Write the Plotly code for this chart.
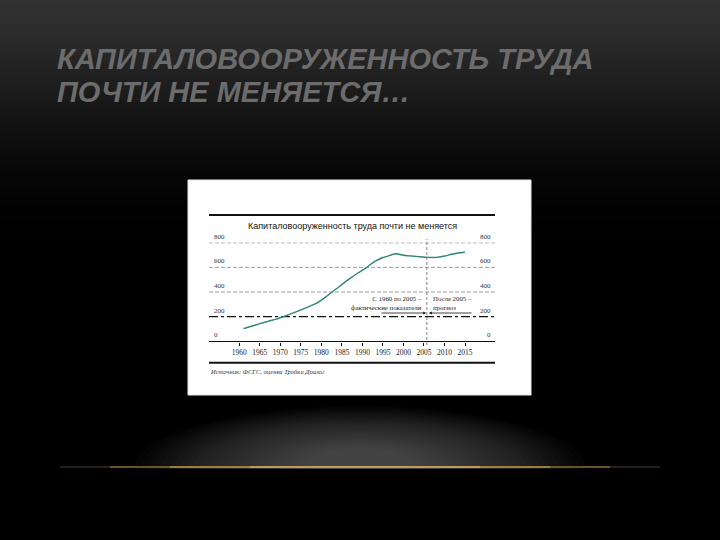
import plotly.graph_objects as go

# ---------------- data ----------------
years = [1961, 1963, 1965, 1967, 1969, 1971, 1973, 1975, 1977, 1979, 1981, 1983,
         1985, 1987, 1989, 1991, 1993, 1995, 1997, 1998, 1999, 2000, 2002, 2004,
         2006, 2008, 2010, 2012, 2014, 2015]
values = [103, 122, 143, 162, 180, 203, 228, 255, 282, 312, 358, 410,
          460, 510, 556, 598, 648, 680, 700, 710, 706, 698, 692, 686,
          681, 681, 692, 708, 718, 722]
x_ticks = [1960, 1965, 1970, 1975, 1980, 1985, 1990, 1995, 2000, 2005, 2010, 2015]
y_ticks = [0, 200, 400, 600, 800]
SPLIT_YEAR = 2005.7

slide_title = ["КАПИТАЛОВООРУЖЕННОСТЬ ТРУДА", "ПОЧТИ НЕ МЕНЯЕТСЯ…"]
chart_title = "Капиталовооруженность труда почти не меняется"
note_left = "С 1960 по 2005 –<br>фактические показатели"
note_right = "После 2005 –<br>прогноз"
source = "Источник: ФСГС, оценка Тройки Диалог"

W, H = 720, 540


def X(px):
    return px / W


def Y(py):
    return 1 - py / H


# pixel geometry of the embedded chart
PL, PR = 209, 495          # plot left/right
Y0, Y800 = 341.3, 242.7    # pixel rows of 0 and 800
T0, T1 = 239.3, 465.0      # pixel cols of 1960 and 2015
ppy = (T1 - T0) / 55.0
xr0 = 1960 + (PL - T0) / ppy
xr1 = 1960 + (PR - T0) / ppy

shapes = []

# ---- slide background gradient ----
stops = [(0, 50), (40, 42), (80, 31), (120, 19), (160, 9), (200, 3), (240, 0)]
for i in range(len(stops) - 1):
    (ya, ca), (yb, cb) = stops[i], stops[i + 1]
    n = 8
    for k in range(n):
        y0 = ya + (yb - ya) * k / n
        y1 = ya + (yb - ya) * (k + 1) / n + 0.6
        c = int(round(ca + (cb - ca) * (k + 0.5) / n))
        shapes.append(dict(type="rect", xref="paper", yref="paper", layer="below",
                           x0=0, x1=1, y0=Y(y1), y1=Y(y0),
                           fillcolor=f"rgb({c},{c},{c})", line=dict(width=0)))

# ---- glow under the picture ----
n_glow = 28
for k in range(n_glow):
    f = k / n_glow
    rx = 225 - 180 * f
    ry = 62 - 44 * f
    cx, cy = 360, 468
    shapes.append(dict(type="circle", xref="paper", yref="paper", layer="below",
                       x0=X(cx - rx), x1=X(cx + rx), y0=Y(cy + ry), y1=Y(cy - ry),
                       fillcolor="rgba(130,130,130,0.03)", line=dict(width=0)))
shapes.append(dict(type="rect", xref="paper", yref="paper", layer="below",
                   x0=0, x1=1, y0=0, y1=Y(469), fillcolor="black", line=dict(width=0)))
for (xa, xb, col, wd) in [(60, 660, "rgba(80,68,42,0.5)", 2),
                          (110, 610, "rgba(150,115,55,0.6)", 2),
                          (170, 550, "rgba(195,155,80,0.75)", 1.6),
                          (250, 480, "rgba(230,195,115,0.85)", 1.2)]:
    shapes.append(dict(type="line", xref="paper", yref="paper", layer="below",
                       x0=X(xa), x1=X(xb), y0=Y(467), y1=Y(467),
                       line=dict(color=col, width=wd)))

# ---- white picture box ----
shapes.append(dict(type="rect", xref="paper", yref="paper", layer="below",
                   x0=X(188), x1=X(531), y0=Y(395), y1=Y(180),
                   fillcolor="white", line=dict(color="#e8e8e8", width=1)))

# top and bottom rules of the chart
for py in (215, 362.7):
    shapes.append(dict(type="line", xref="paper", yref="paper", layer="below",
                       x0=X(PL), x1=X(PR), y0=Y(py), y1=Y(py),
                       line=dict(color="#111", width=2)))

# horizontal grid lines
grid_style = {800: ("#555", "4px,2px", 1), 600: ("#9a9a9a", "4px,2px", 1),
              400: ("#9a9a9a", "4px,2px", 1), 200: ("#111", "dashdot", 1.3)}
for v in y_ticks[1:]:
    col, dash, wd = grid_style[v]
    shapes.append(dict(type="line", xref="paper", yref="y", layer="below",
                       x0=X(PL), x1=X(PR), y0=v, y1=v,
                       line=dict(color=col, width=wd, dash=dash)))

# vertical split line
shapes.append(dict(type="line", xref="x", yref="paper", layer="below",
                   x0=SPLIT_YEAR, x1=SPLIT_YEAR, y0=Y(345), y1=Y(239),
                   line=dict(color="#777", width=0.9, dash="3px,2px")))

fig = go.Figure()
fig.add_trace(go.Scatter(x=years, y=values, mode="lines",
                         line=dict(color="#2f8574", width=1.4, shape="spline", smoothing=0.6),
                         hoverinfo="skip", showlegend=False))

annotations = []
# slide title
for i, t in enumerate(slide_title):
    annotations.append(dict(text=f"<b><i>{t}</i></b>", xref="paper", yref="paper",
                            x=X(55), y=Y(59 + 33 * i), xanchor="left", yanchor="middle",
                            showarrow=False,
                            font=dict(family="Liberation Sans, Arial",
                                      size=29, color="#6c6c6c")))
# chart title
annotations.append(dict(text=chart_title, xref="paper", yref="paper",
                        x=X(352), y=Y(226), xanchor="center", yanchor="middle",
                        showarrow=False,
                        font=dict(family="Liberation Sans, Arial", size=9, color="#111")))
# y labels left & right
for v in y_ticks:
    annotations.append(dict(text=str(v), xref="paper", yref="y", x=X(212), y=v,
                            xanchor="left", yanchor="bottom", yshift=0, showarrow=False,
                            font=dict(family="Liberation Serif, Times New Roman", size=7, color="#333")))
    annotations.append(dict(text=str(v), xref="paper", yref="y", x=X(493), y=v,
                            xanchor="right", yanchor="bottom", yshift=0, showarrow=False,
                            font=dict(family="Liberation Serif, Times New Roman", size=7, color="#333")))
# notes
annotations.append(dict(text=note_left, xref="paper", yref="paper", x=X(423.5), y=Y(302.5),
                        xanchor="right", yanchor="middle", align="right", showarrow=False,
                        font=dict(family="Liberation Serif, Times New Roman", size=6.8, color="#222")))
annotations.append(dict(text=note_right, xref="paper", yref="paper", x=X(431), y=Y(302.5),
                        xanchor="left", yanchor="middle", align="left", showarrow=False,
                        font=dict(family="Liberation Serif, Times New Roman", size=6.8, color="#222")))
# arrows towards the split line
annotations.append(dict(text="", xref="paper", yref="paper", x=X(426), y=Y(313),
                        ax=-46, ay=0, showarrow=True, arrowhead=2, arrowsize=0.7,
                        arrowwidth=0.8, arrowcolor="#111"))
annotations.append(dict(text="", xref="paper", yref="paper", x=X(429), y=Y(313),
                        ax=44, ay=0, showarrow=True, arrowhead=2, arrowsize=0.7,
                        arrowwidth=0.8, arrowcolor="#111"))
# source
annotations.append(dict(text=f"<i>{source}</i>", xref="paper", yref="paper", x=X(208), y=Y(371),
                        xanchor="left", yanchor="middle", showarrow=False,
                        font=dict(family="Liberation Serif, Times New Roman", size=6.5, color="#333")))

fig.update_layout(
    width=W, height=H,
    margin=dict(l=0, r=0, t=0, b=0),
    paper_bgcolor="black", plot_bgcolor="rgba(0,0,0,0)",
    shapes=shapes, annotations=annotations, showlegend=False,
    xaxis=dict(domain=[X(PL), X(PR)], range=[xr0, xr1], showgrid=False, zeroline=False,
               showline=True, linecolor="#111", linewidth=1.4,
               ticks="outside", ticklen=3, tickwidth=1, tickcolor="#111",
               tickvals=x_ticks, ticktext=[str(t) for t in x_ticks],
               tickfont=dict(family="Liberation Serif, Times New Roman", size=7.5, color="#222"),
               fixedrange=True),
    yaxis=dict(domain=[Y(Y0), Y(Y800)], range=[0, 800], showgrid=False, zeroline=False,
               showticklabels=False, showline=False, ticks="", fixedrange=True),
)

fig.write_html("out.html", config={"displayModeBar": False},
               post_script="document.body.style.margin='0';document.body.style.background='black';")
